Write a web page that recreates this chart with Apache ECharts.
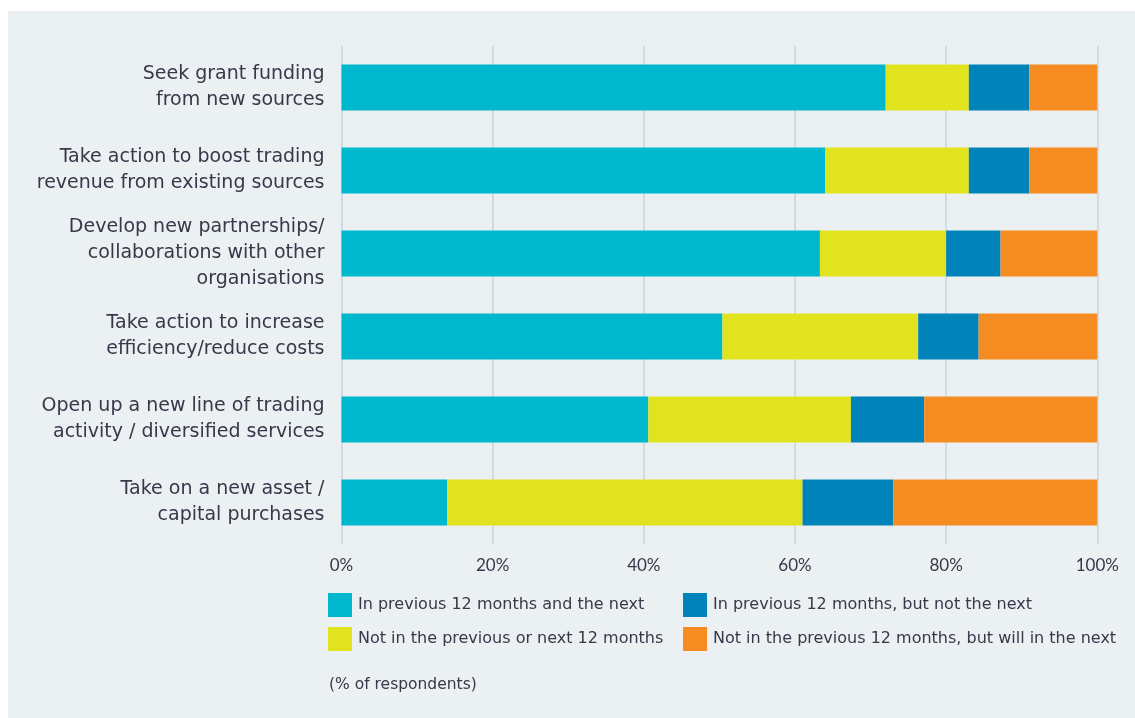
<!DOCTYPE html>
<html>
<head>
<meta charset="utf-8">
<script src="https://cdn.jsdelivr.net/npm/echarts@6/dist/echarts.min.js"></script>
<style>
  html, body { margin: 0; padding: 0; background: #ffffff; }
  #chart { width: 1135px; height: 718px; }
</style>
</head>
<body>
<div id="chart"></div>
<script>
// Activities, top to bottom
const categories = [
  'Seek grant funding\nfrom new sources',
  'Take action to boost trading\nrevenue from existing sources',
  'Develop new partnerships/\ncollaborations with other\norganisations',
  'Take action to increase\nefficiency/reduce costs',
  'Open up a new line of trading\nactivity / diversified services',
  'Take on a new asset /\ncapital purchases'
];

const seriesNames = [
  'In previous 12 months and the next',
  'Not in the previous or next 12 months',
  'In previous 12 months, but not the next',
  'Not in the previous 12 months, but will in the next'
];

// % of respondents per activity
const prevAndNext      = [72, 64, 63.3, 50.4, 40.6, 14];
const neither          = [11, 19, 16.7, 25.9, 26.8, 47];
const prevNotNext      = [8, 8, 7.2, 8, 9.7, 12];
const nextNotPrev      = [9, 9, 12.8, 15.7, 22.9, 27];

const tickLabels = ['0%', '20%', '40%', '60%', '80%', '100%'];

const colors = ['#00b8cd', '#e1e31f', '#0083b9', '#f58c21'];
const textColor = '#373849';
const wideFont = '"DejaVu Sans", "Noto Sans", sans-serif';
const tickFont = 'Lato, "Noto Sans", sans-serif';

const values = [prevAndNext, neither, prevNotNext, nextNotPrev];

const legendBase = {
  orient: 'vertical',
  top: 593,
  padding: 0,
  itemWidth: 24, itemHeight: 24, itemGap: 10,
  icon: 'rect',
  textStyle: { fontFamily: wideFont, fontSize: 16, color: textColor, padding: [0, 0, 0, 1] },
  selectedMode: false
};

const chart = echarts.init(document.getElementById('chart'), null, { renderer: 'canvas' });

chart.setOption({
  animation: false,
  textStyle: { fontFamily: wideFont, color: textColor },
  graphic: [
    {
      type: 'rect',
      left: 8, top: 11,
      shape: { width: 1127, height: 707 },
      style: { fill: '#ebf0f3' },
      z: -10
    },
    {
      type: 'text',
      left: 329, top: 677,
      style: {
        text: '(% of respondents)',
        fill: textColor,
        font: '15.5px ' + wideFont
      }
    }
  ],
  grid: { left: 341.5, right: 37.7, top: 46, height: 498, containLabel: false },
  xAxis: {
    type: 'value',
    min: 0, max: 100, interval: 20,
    axisLine: { show: false },
    axisTick: { show: false },
    splitLine: { show: true, lineStyle: { color: '#cbd4dc', width: 1.5 } },
    axisLabel: {
      margin: 13,
      fontSize: 17,
      fontFamily: tickFont,
      color: textColor,
      formatter: function (v) { return tickLabels[Math.round(v / 20)]; }
    }
  },
  yAxis: {
    type: 'category',
    inverse: true,
    data: categories,
    axisLine: { show: false },
    axisTick: { show: false },
    axisLabel: {
      margin: 17,
      fontSize: 19,
      fontFamily: wideFont,
      lineHeight: 26,
      color: textColor,
      align: 'right'
    }
  },
  legend: [
    Object.assign({}, legendBase, { data: [seriesNames[0], seriesNames[1]], left: 328 }),
    Object.assign({}, legendBase, { data: [seriesNames[2], seriesNames[3]], left: 683 })
  ],
  series: values.map(function (arr, i) {
    return {
      name: seriesNames[i],
      type: 'bar',
      stack: 'total',
      data: arr,
      barWidth: 46,
      itemStyle: { color: colors[i] }
    };
  })
});
</script>
</body>
</html>
